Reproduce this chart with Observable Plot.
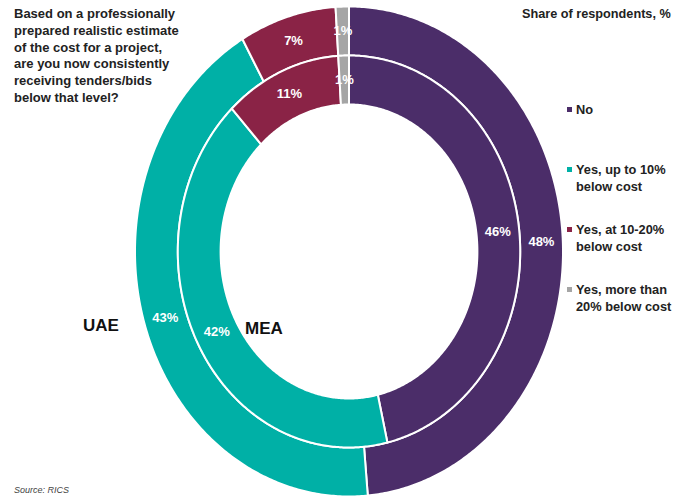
<!DOCTYPE html>
<html>
<head>
<meta charset="utf-8">
<script src="https://cdn.jsdelivr.net/npm/d3@7"></script>
<script src="https://cdn.jsdelivr.net/npm/@observablehq/plot@0.6"></script>
<style>
  html, body { margin: 0; padding: 0; background: #fff; }
  #wrap { position: relative; width: 688px; height: 497px; overflow: hidden; font-family: Arial, "Liberation Sans", sans-serif; }
  #chart { position: absolute; left: 0; top: 0; }
  .title { position: absolute; left: 14px; top: 6px; font-weight: bold; font-size: 13px; line-height: 16.8px; color: #222; }
  .unit { position: absolute; left: 522px; top: 7px; font-weight: bold; font-size: 12.7px; color: #222; }
  .legend { position: absolute; left: 567px; top: 0; font-weight: bold; font-size: 12.8px; line-height: 17px; color: #222; }
  .legend .item { position: absolute; left: 0; white-space: nowrap; }
  .legend .sw { display: inline-block; width: 5px; height: 5px; margin-right: 4px; vertical-align: 2px; }
  .legend .txt { display: inline-block; vertical-align: top; }
  .ring { position: absolute; font-weight: bold; font-size: 17px; color: #111; }
  .source { position: absolute; left: 14px; top: 485px; font-style: italic; font-size: 9px; line-height: 10px; color: #444; }
</style>
</head>
<body>
<div id="wrap">
  <div id="chart"></div>
</div>
<script>
// ---- data ----
const categories = ["No", "Yes, up to 10% below cost", "Yes, at 10-20% below cost", "Yes, more than 20% below cost"];
const legendLines = [["No"], ["Yes, up to 10%", "below cost"], ["Yes, at 10-20%", "below cost"], ["Yes, more than", "20% below cost"]];
const colors = ["#4B2D69", "#00B0A6", "#8A2346", "#A5A5A5"];
const ringNames = ["UAE", "MEA"];
const uaeValues = [48.6, 43.1, 7.3, 1.0];
const uaeLabels = ["48%", "43%", "7%", "1%"];
const meaValues = [46.4, 41.6, 11.0, 1.0];
const meaLabels = ["46%", "42%", "11%", "1%"];
const titleLines = ["Based on a professionally", "prepared realistic estimate", "of the cost for a project,", "are you now consistently", "receiving tenders/bids", "below that level?"];
const unitText = "Share of respondents, %";
const sourceText = "Source: RICS";

// ---- geometry (layout) ----
const ringRadii = { UAE: [0.8, 1.0], MEA: [0.6, 0.8] };
const ringData = [
  { name: ringNames[0], values: uaeValues, labels: uaeLabels },
  { name: ringNames[1], values: meaValues, labels: meaLabels }
];

const polyPts = [];
const labelPts = [];
for (const ring of ringData) {
  const [r0, r1] = ringRadii[ring.name];
  const total = d3.sum(ring.values);
  let acc = 0;
  ring.values.forEach((v, i) => {
    const a0 = acc / total * 2 * Math.PI;
    acc += v;
    const a1 = acc / total * 2 * Math.PI;
    const id = ring.name + "-" + i;
    const n = Math.max(2, Math.ceil((a1 - a0) / 0.01));
    const pts = [];
    for (let k = 0; k <= n; k++) {
      const a = a0 + (a1 - a0) * k / n;
      pts.push({ x: r1 * Math.sin(a), y: r1 * Math.cos(a) });
    }
    for (let k = n; k >= 0; k--) {
      const a = a0 + (a1 - a0) * k / n;
      pts.push({ x: r0 * Math.sin(a), y: r0 * Math.cos(a) });
    }
    pts.push(pts[0]);
    for (const p of pts) polyPts.push({ ...p, id, cat: categories[i] });
    const am = (a0 + a1) / 2, rm = (r0 + r1) / 2;
    labelPts.push({ x: rm * Math.sin(am), y: rm * Math.cos(am), text: ring.labels[i] });
  });
}

const W = 688, H = 497;
const cx = 348.5, cy = 251, rx = 214, ry = 245;

const plot = Plot.plot({
  width: W,
  height: H,
  marginLeft: cx - rx,
  marginRight: W - (cx + rx),
  marginTop: cy - ry,
  marginBottom: H - (cy + ry),
  x: { domain: [-1, 1], axis: null },
  y: { domain: [-1, 1], axis: null },
  color: { domain: categories, range: colors },
  style: { fontFamily: "Arial, 'Liberation Sans', sans-serif", background: "transparent" },
  marks: [
    Plot.line(polyPts, { x: "x", y: "y", z: "id", fill: "cat", stroke: "white", strokeWidth: 2, curve: "linear" }),
    Plot.text(labelPts, { x: "x", y: "y", text: "text", fill: "white", fontWeight: "bold", fontSize: 13 })
  ]
});
document.getElementById("chart").appendChild(plot);

// ---- overlays ----
const wrap = document.getElementById("wrap");
const title = document.createElement("div");
title.className = "title";
title.innerHTML = titleLines.join("<br>");
wrap.appendChild(title);

const unit = document.createElement("div");
unit.className = "unit";
unit.textContent = unitText;
wrap.appendChild(unit);

const legend = document.createElement("div");
legend.className = "legend";
legendLines.forEach((lines, i) => {
  const it = document.createElement("div");
  it.className = "item";
  it.style.top = (101 + i * 60) + "px";
  it.innerHTML = `<span class="sw" style="background:${colors[i]}"></span><span class="txt">${lines.join("<br>")}</span>`;
  legend.appendChild(it);
});
wrap.appendChild(legend);

const ringPos = { UAE: [83, 316], MEA: [245, 319] };
ringNames.forEach(n => {
  const d = document.createElement("div");
  d.className = "ring";
  d.textContent = n;
  d.style.left = ringPos[n][0] + "px";
  d.style.top = ringPos[n][1] + "px";
  wrap.appendChild(d);
});

const src = document.createElement("div");
src.className = "source";
src.textContent = sourceText;
wrap.appendChild(src);
</script>
</body>
</html>
